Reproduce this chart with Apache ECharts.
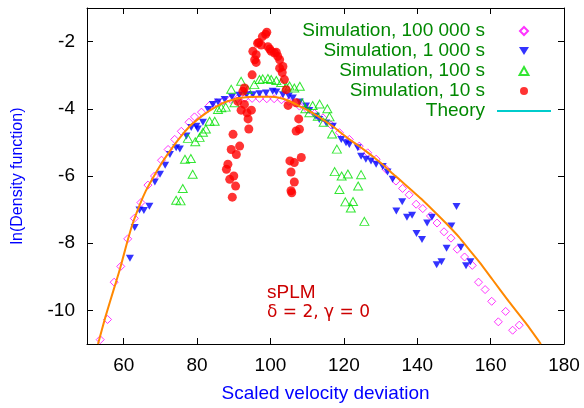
<!DOCTYPE html>
<html>
<head>
<meta charset="utf-8">
<script src="https://cdn.jsdelivr.net/npm/echarts@6/dist/echarts.min.js"></script>
<style>
html,body{margin:0;padding:0;background:#fff}
#main{width:584px;height:408px}
</style>
</head>
<body>
<div id="main"></div>
<script>
// tick values
var xTicks = [60, 80, 100, 120, 140, 160, 180];
var yTicks = [-10, -8, -6, -4, -2];

// Simulation, 100 000 s
var sim100000 = [
  [53.6,-10.87],[55.6,-10.27],[57.4,-9.16],[59.2,-8.69],[61.1,-7.87],[62.9,-7.26],
  [64.7,-6.79],[66.6,-6.27],[68.4,-6.0],[70.3,-5.53],[72.1,-5.21],[73.9,-4.91],
  [75.7,-4.67],[77.8,-4.40],[79.3,-4.24],[81.2,-4.10],[83.4,-3.90],[85.3,-3.82],
  [87.2,-3.76],[89.1,-3.72],[91.0,-3.70],[93.0,-3.68],[95.0,-3.69],[97.0,-3.69],
  [99.0,-3.70],[101.0,-3.70],[103.0,-3.73],[105.0,-3.78],[107.9,-3.92],[110.0,-4.02],
  [112.0,-4.14],[114.3,-4.27],[116.5,-4.48],[118.8,-4.71],[121.5,-4.91],[124.2,-5.11],
  [126.5,-5.31],[128.8,-5.50],[131.5,-5.80],[134.2,-6.15],[136.0,-6.37],[137.8,-6.56],
  [139.7,-6.84],[141.5,-6.97],[143.6,-7.19],[145.4,-7.40],[147.3,-7.66],[149.2,-7.85],
  [150.9,-8.18],[152.9,-8.41],[155.0,-8.66],[156.7,-9.16],[158.5,-9.38],[160.3,-9.73],
  [162.1,-10.34],[164.1,-10.03],[166.0,-10.59],[167.8,-10.44]
];
// Simulation, 1 000 s
var sim1000 = [
  [61.7,-8.45],[63.0,-7.53],[64.3,-7.01],[65.5,-7.03],[67.0,-6.9],[68.5,-6.18],
  [69.9,-5.95],[71.3,-5.68],[72.6,-5.36],[74.3,-5.16],[75.3,-5.2],[77.1,-4.81],
  [78.4,-4.56],[79.8,-4.52],[80.2,-4.6],[81.6,-4.4],[83.0,-4.02],[84.3,-3.87],
  [85.7,-3.8],[87.5,-3.72],[89.5,-3.65],[91.5,-3.6],[93.5,-3.58],[95.2,-3.58],
  [97.0,-3.55],[98.8,-3.53],[100.6,-3.48],[101.6,-3.5],[103.4,-3.58],[105.0,-3.62],
  [106.1,-3.68],[108.0,-3.8],[109.7,-3.92],[110.6,-4.05],[112.4,-4.22],[113.3,-4.32],
  [115.2,-4.42],[117.0,-4.52],[119.3,-4.91],[120.6,-5.01],[121.5,-5.06],[123.8,-5.16],
  [124.7,-5.41],[126.0,-5.5],[127.4,-5.55],[128.8,-5.65],[130.6,-5.72],[131.9,-5.88],
  [133.3,-6.1],[134.3,-7.04],[135.9,-6.77],[137.2,-7.23],[138.6,-7.17],[139.8,-7.71],
  [141.3,-7.89],[142.7,-7.4],[144.0,-7.23],[145.3,-8.64],[146.6,-8.55],[148.0,-8.15],
  [149.3,-7.49],[150.7,-6.91],[151.9,-8.12],[153.3,-8.67],[154.5,-8.55]
];
// Simulation, 100 s
var sim100 = [
  [74.3,-6.72],[75.5,-6.74],[76.1,-6.37],[76.7,-5.5],[78.3,-5.48],[78.8,-5.95],
  [77.5,-4.88],[79.5,-4.98],[80.7,-4.85],[81.6,-4.7],[82.4,-4.6],[83.4,-4.37],
  [84.8,-4.37],[85.7,-4.02],[86.6,-3.97],[87.8,-3.95],[89.3,-3.42],[90.2,-3.82],
  [92.0,-3.18],[93.8,-3.43],[95.6,-3.28],[97.0,-3.13],[97.9,-3.11],[99.3,-3.1],
  [100.2,-3.13],[101.6,-3.16],[102.9,-3.22],[104.3,-3.35],[105.2,-3.32],[106.5,-3.38],
  [108.0,-3.33],[108.6,-3.82],[109.5,-4.0],[110.6,-4.12],[111.5,-3.9],[112.9,-4.22],
  [113.4,-3.86],[114.5,-4.4],[115.5,-4.0],[116.1,-4.24],[116.8,-4.75],[118.1,-5.2],
  [117.5,-5.87],[119.4,-6.0],[121.1,-5.94],[124.7,-5.96],[118.8,-6.4],[123.9,-6.3],
  [120.4,-6.77],[122.5,-6.76],[121.9,-6.95],[125.6,-7.35]
];
// Simulation, 10 s
var sim10 = [
  [88.0,-5.8],[88.4,-5.65],[88.9,-6.1],[89.3,-5.21],[89.6,-6.63],[89.8,-4.76],
  [90.0,-6.0],[90.5,-6.3],[90.7,-5.36],[91.1,-3.78],[91.6,-5.11],[92.0,-4.04],
  [92.5,-3.48],[92.9,-3.38],[92.9,-3.87],[93.6,-4.12],[93.9,-4.3],[94.1,-4.6],
  [94.8,-4.04],[95.0,-2.99],[95.2,-2.29],[95.7,-2.54],[96.1,-2.39],[96.1,-2.62],
  [96.5,-2.05],[96.8,-2.03],[97.5,-2.10],[97.8,-1.85],[98.7,-1.78],[99.0,-1.72],
  [99.3,-2.15],[99.8,-2.22],[100.2,-2.29],[101.1,-2.34],[101.6,-2.32],[102.0,-2.44],
  [102.5,-2.54],[102.5,-2.79],[103.2,-2.92],[103.4,-2.74],[103.8,-3.13],[104.3,-3.43],
  [104.8,-3.9],[107.0,-3.82],[107.7,-4.3],[107.0,-4.66],[107.9,-4.61],[105.3,-5.55],
  [106.5,-5.6],[108.4,-5.45],[105.6,-5.88],[106.5,-6.18],[105.6,-6.44],[105.8,-6.5]
];
// Theory
var theory = [
  [53.0,-11.0],[55.0,-10.2],[57.5,-9.3],[59.0,-8.76],[61.0,-7.95],[62.5,-7.4],
  [64.4,-6.85],[66.0,-6.45],[68.0,-6.05],[70.0,-5.68],[72.0,-5.35],[75.0,-4.9],
  [78.0,-4.52],[80.0,-4.33],[82.5,-4.12],[85.0,-3.95],[87.0,-3.83],[89.5,-3.74],
  [91.6,-3.68],[94.0,-3.65],[97.0,-3.64],[100.0,-3.64],[102.4,-3.67],[105.0,-3.76],
  [107.0,-3.87],[109.0,-3.98],[111.5,-4.12],[114.0,-4.3],[117.0,-4.52],[119.0,-4.7],
  [121.5,-4.91],[124.0,-5.1],[126.0,-5.26],[128.5,-5.47],[130.6,-5.66],[133.0,-5.9],
  [135.1,-6.1],[138.7,-6.45],[141.5,-6.72],[144.5,-7.04],[147.8,-7.4],[151.4,-7.82],
  [154.0,-8.17],[157.0,-8.57],[160.5,-9.08],[165.0,-9.74],[169.6,-10.38],[173.7,-11.0]
];

var FONT = 'Liberation Sans, Arial, Helvetica, sans-serif';

//坐标轴（上下左右四条框线，刻度朝内）
function makeAxis(min, max, ticks, pos, showLabel, name){
  var ax = {
    type: 'value', min: min, max: max, position: pos,
    axisLine: {show: true, onZero: false, lineStyle: {color: '#000', width: 1}},
    axisTick: {show: true, inside: true, length: 6, customValues: ticks, lineStyle: {color: '#000'}},
    axisLabel: {show: showLabel, customValues: ticks, color: '#000', fontSize: 19, fontFamily: FONT, margin: 12},
    splitLine: {show: false}
  };
  if (name) {
    ax.name = name;
    ax.nameLocation = 'middle';
    ax.nameTextStyle = {color: '#00f', fontSize: 19, fontFamily: FONT};
  }
  return ax;
}

var chart = echarts.init(document.getElementById('main'));
var xBottom = makeAxis(50, 180, xTicks, 'bottom', true, 'Scaled velocity deviation');
xBottom.nameGap = 40;
var yLeft = makeAxis(-11, -1, yTicks, 'left', true, 'ln(Density function)');
yLeft.nameGap = 61;
yLeft.nameTextStyle.fontSize = 16;

chart.setOption({
  animation: false,
  grid: {left: 87, right: 20, top: 8, bottom: 63},
  xAxis: [xBottom, makeAxis(50, 180, xTicks, 'top', false)],
  yAxis: [yLeft, makeAxis(-11, -1, yTicks, 'right', false)],
  legend: {
    orient: 'vertical', align: 'right', right: 28, top: 16,
    itemWidth: 54, itemHeight: 8, itemGap: 0,
    textStyle: {color: '#080', fontSize: 19, fontFamily: FONT, lineHeight: 20, padding: [0, 7, 0, 0]},
    data: [
      'Simulation, 100 000 s', 'Simulation, 1 000 s', 'Simulation, 100 s', 'Simulation, 10 s',
      {name: 'Theory', icon: 'path://M0,0 L54,0 L54,2 L0,2 Z', itemStyle: {color: '#0cc', borderWidth: 0}}
    ]
  },
  graphic: [
    {type: 'text', left: 267, top: 283, style: {text: 'sPLM', fill: '#c00', fontSize: 19, fontFamily: 'Liberation Sans'}},
    {type: 'text', left: 267, top: 304, style: {text: 'δ = 2, γ = 0', fill: '#c00', fontSize: 17, fontFamily: 'DejaVu Sans'}}
  ],
  series: [
    {
      name: 'Simulation, 100 000 s', type: 'scatter', data: sim100000,
      symbol: 'path://M5,0 L10,5 L5,10 L0,5 Z', symbolSize: 8,
      itemStyle: {color: 'rgba(0,0,0,0)', borderColor: '#ff00ff', borderWidth: 1}
    },
    {
      name: 'Simulation, 1 000 s', type: 'scatter', data: sim1000,
      symbol: 'path://M0,0 L10,0 L5,8 Z', symbolSize: [8, 7],
      itemStyle: {color: '#0000ff'}
    },
    {
      name: 'Simulation, 100 s', type: 'scatter', data: sim100,
      symbol: 'path://M5,0 L10,9 L0,9 Z', symbolSize: [9, 8],
      itemStyle: {color: 'rgba(0,0,0,0)', borderColor: '#00e000', borderWidth: 1}
    },
    {
      name: 'Simulation, 10 s', type: 'scatter', data: sim10,
      symbol: 'circle', symbolSize: 9,
      itemStyle: {color: '#ff0000'}
    },
    {
      name: 'Theory', type: 'line', data: theory, smooth: 0.2,
      showSymbol: false, symbol: 'none',
      lineStyle: {color: '#f80', width: 2},
      itemStyle: {color: '#f80'}
    }
  ]
});
</script>
</body>
</html>
